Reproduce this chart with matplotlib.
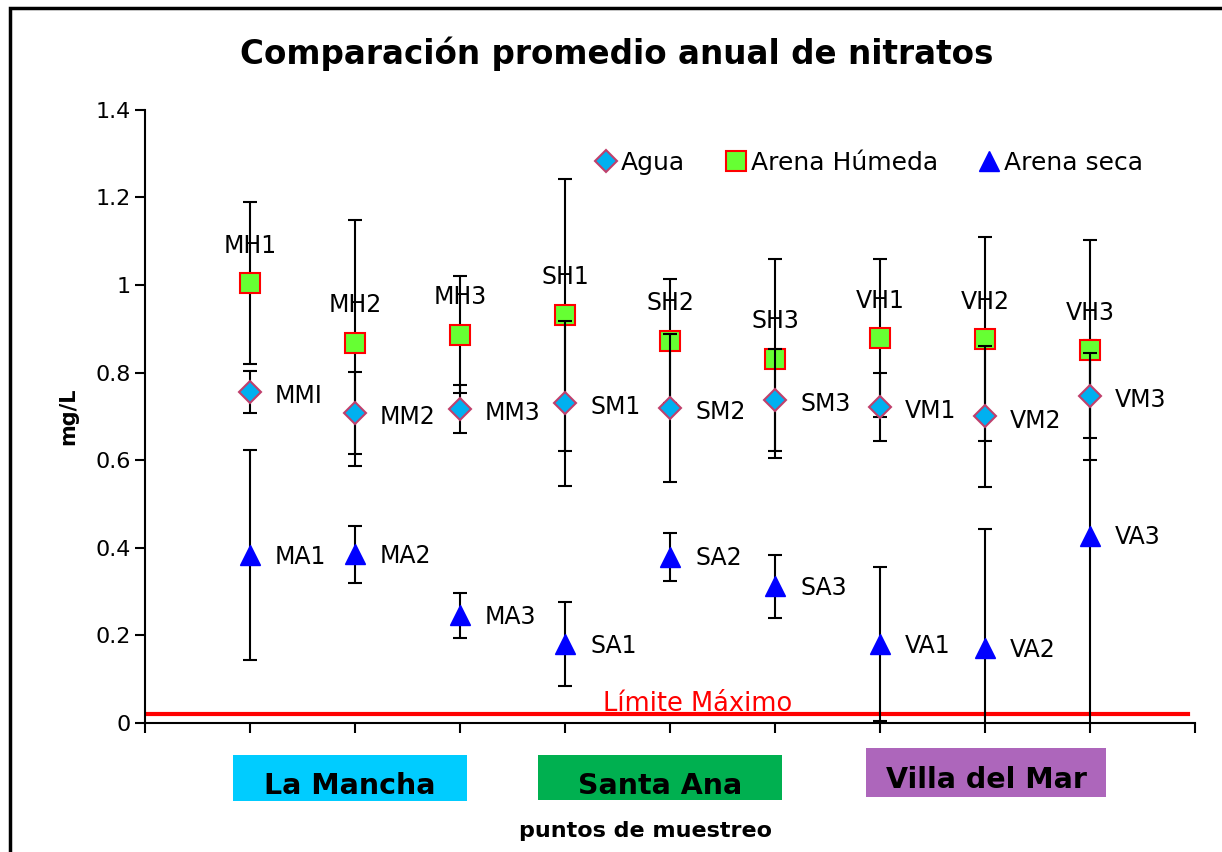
import numpy as np
import matplotlib
matplotlib.use('Agg')
import matplotlib.pyplot as plt
from matplotlib.patches import Rectangle

plt.rcParams['font.family'] = ['DejaVu Sans']

# puntos de muestreo (posiciones 1..9 en el eje x)
puntos = [1, 2, 3, 4, 5, 6, 7, 8, 9]

# Agua
agua = [0.756, 0.708, 0.717, 0.730, 0.720, 0.738, 0.722, 0.700, 0.747]
agua_err = [0.047, 0.093, 0.055, 0.189, 0.169, 0.116, 0.077, 0.160, 0.097]
agua_lbl = ['MMI', 'MM2', 'MM3', 'SM1', 'SM2', 'SM3', 'VM1', 'VM2', 'VM3']

# Arena Humeda
humeda = [1.004, 0.868, 0.887, 0.932, 0.873, 0.832, 0.879, 0.876, 0.851]
humeda_err = [0.185, 0.280, 0.134, 0.311, 0.142, 0.228, 0.180, 0.233, 0.251]
humeda_lbl = ['MH1', 'MH2', 'MH3', 'SH1', 'SH2', 'SH3', 'VH1', 'VH2', 'VH3']

# Arena seca
seca = [0.383, 0.385, 0.246, 0.180, 0.379, 0.312, 0.180, 0.171, 0.428]
seca_err = [0.240, 0.066, 0.052, 0.096, 0.054, 0.072, 0.176, 0.273, 0.447]
seca_lbl = ['MA1', 'MA2', 'MA3', 'SA1', 'SA2', 'SA3', 'VA1', 'VA2', 'VA3']

limite = 0.02
sitios = ['La Mancha', 'Santa Ana', 'Villa del Mar']

fig = plt.figure(figsize=(12.22, 8.52), dpi=100)
ax = fig.add_axes([0.1187, 0.1514, 0.8593, 0.7196])

eb = dict(ecolor='black', elinewidth=1.5, capsize=5, capthick=1.5, linestyle='none')
ax.errorbar(puntos, seca, yerr=seca_err, marker='^', ms=15, mfc='#0000FF', mec='#0000FF',
            label='Arena seca', zorder=3, **eb)
ax.errorbar(puntos, humeda, yerr=humeda_err, marker='s', ms=14, mfc='#66FF33', mec='#FF0000',
            mew=1.5, label='Arena Húmeda', zorder=4, **eb)
ax.errorbar(puntos, agua, yerr=agua_err, marker='D', ms=11.5, mfc='#00B0F0', mec='#C0406C',
            mew=1.5, label='Agua', zorder=5, **eb)

ax.axhline(limite, xmin=0, xmax=0.993, color='#FF0000', lw=3, zorder=2)
ax.text(5.26, limite - 0.006, 'Límite Máximo', color='#FF0000', fontsize=18.5,
        ha='center', va='bottom', zorder=1)

for x, y, t in zip(puntos, agua, agua_lbl):
    ax.annotate(t, (x, y), xytext=(18, -3), textcoords='offset points',
                ha='left', va='center', fontsize=17)
for x, y, t in zip(puntos, seca, seca_lbl):
    ax.annotate(t, (x, y), xytext=(18, -1), textcoords='offset points',
                ha='left', va='center', fontsize=17)
for x, y, t in zip(puntos, humeda, humeda_lbl):
    ax.annotate(t, (x, y), xytext=(0, 27), textcoords='offset points',
                ha='center', va='center', fontsize=17)

ax.set_xlim(0, 10)
ax.set_ylim(0, 1.4)
ax.set_xticks(np.arange(0, 11, 1))
ax.set_xticklabels([])
ax.set_yticks(np.arange(0, 1.41, 0.2))
ax.set_yticklabels(['0', '0.2', '0.4', '0.6', '0.8', '1', '1.2', '1.4'])
ax.tick_params(axis='y', labelsize=16, length=7, width=1.5, direction='out')
ax.tick_params(axis='x', length=7, width=1.5, direction='out')
for s in ['top', 'right']:
    ax.spines[s].set_visible(False)
for s in ['left', 'bottom']:
    ax.spines[s].set_linewidth(1.5)

ax.set_ylabel('mg/L', fontsize=15, fontweight='bold', labelpad=12)

handles, labels = ax.get_legend_handles_labels()
order = [2, 1, 0]
leg = ax.legend([handles[i][0] for i in order], [labels[i] for i in order],
                loc='center left', bbox_to_anchor=(0.428, 0.913), ncol=3, frameon=False,
                fontsize=18, handletextpad=0.15, columnspacing=1.6, handlelength=0.9,
                borderpad=0, borderaxespad=0)

fig.text(0.505, 0.937, 'Comparación promedio anual de nitratos', fontsize=23.5,
         fontweight='bold', ha='center', va='center')
fig.text(0.528, 0.025, 'puntos de muestreo', fontsize=16, fontweight='bold',
         ha='center', va='center')

# cajas de sitio
cajas = [(233, 755, 234, 46, '#00CCFF', 786),
         (538, 755, 244, 45, '#00B050', 786),
         (866, 748, 240, 49, '#AD66BB', 780)]
W, H = 1222.0, 852.0
for (x0, y0, w, h, c, ty), nombre in zip(cajas, sitios):
    fig.patches.append(Rectangle((x0 / W, 1 - (y0 + h) / H), w / W, h / H,
                                 transform=fig.transFigure, facecolor=c, edgecolor='none'))
    fig.text((x0 + w / 2) / W, 1 - ty / H, nombre, fontsize=20.5, fontweight='bold',
             ha='center', va='center')

# borde del area del grafico
fig.patches.append(Rectangle((10 / W, -0.1), 1.2, 1.1 - 8 / H,
                             transform=fig.transFigure, facecolor='none',
                             edgecolor='black', lw=2.5))

fig.savefig('out.png', dpi=100)
